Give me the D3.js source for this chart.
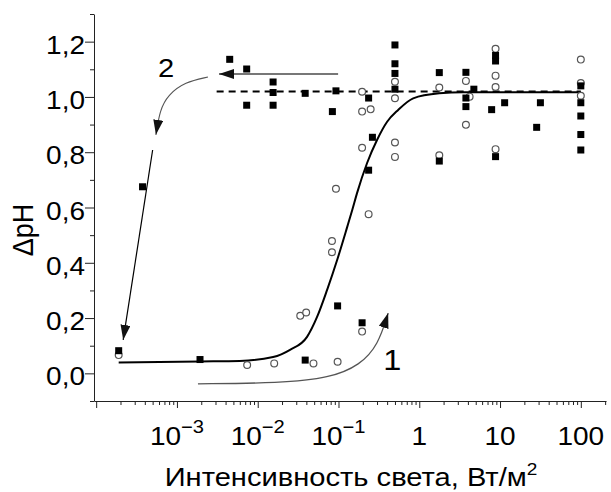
<!DOCTYPE html>
<html>
<head>
<meta charset="utf-8">
<script src="https://cdn.jsdelivr.net/npm/d3@7"></script>
<style>
  body { margin: 0; background: #fff; }
  text { font-family: "Liberation Sans", Arial, sans-serif; fill: #000; }
</style>
</head>
<body>
<script>
// данные (x в Вт/м2, y = ΔpH)
var squaresX = [1.9e-4, 3.75e-4, 1.93e-3, 0.0045, 0.0073, 0.0155, 0.0155, 0.0073, 0.0155, 0.0387,
                0.093, 0.084, 0.236, 0.263, 0.236, 0.0387, 0.0975, 0.196, 0.5, 0.5,
                0.5, 0.5, 1.77, 3.78, 4.74, 3.78, 3.78, 8.8, 8.8, 7.87,
                11.4, 31.6, 28.4, 100, 100, 100, 100, 100, 1.77, 8.8];
var squaresY = [0.082, 0.675, 0.05, 1.136, 1.101, 1.054, 1.016, 0.970, 0.970, 1.013,
                1.022, 0.947, 0.996, 0.854, 0.735, 0.048, 0.244, 0.183, 1.188, 1.12,
                1.085, 1.028, 1.088, 1.089, 1.028, 0.996, 0.965, 1.15, 1.13, 0.954,
                0.979, 0.979, 0.890, 1.040, 0.979, 0.931, 0.864, 0.808, 0.768, 0.784];

var circlesX = [1.9e-4, 0.196, 0.196, 0.25, 0.196, 0.093, 0.5, 0.5, 0.5, 0.5,
                1.77, 1.77, 3.78, 4.2, 3.78, 8.8, 8.8, 8.8, 8.8, 100,
                100, 100, 0.236, 0.083, 0.083, 0.0336, 0.0398, 0.196, 0.0074, 0.016,
                0.049, 0.0975];
var circlesY = [0.066, 1.019, 0.947, 0.955, 0.816, 0.668, 1.055, 0.995, 0.835, 0.783,
                1.034, 0.789, 1.058, 1.001, 0.899, 1.174, 1.077, 1.036, 0.811, 1.135,
                1.05, 1.004, 0.576, 0.479, 0.438, 0.208, 0.220, 0.151, 0.030, 0.036,
                0.036, 0.042];

// сглаженная кривая (точки)
var curveX = [1.9e-4, 1.93e-3, 6.0e-3, 0.0155, 0.0251, 0.0408, 0.0543, 0.0723, 0.0962, 0.128,
              0.148, 0.170, 0.226, 0.301, 0.400, 0.548, 0.841, 1.77, 3.5, 100];
var curveY = [0.039, 0.043, 0.045, 0.059, 0.085, 0.132, 0.204, 0.302, 0.410, 0.529,
              0.591, 0.653, 0.761, 0.845, 0.910, 0.953, 0.995, 1.013, 1.017, 1.017];

// пунктир
var dashX = [3.1e-3, 100];
var dashY = [1.02, 1.02];

// стрелки
var arrow1X = [1.82e-3, 0.0189, 0.0787, 0.185, 0.31, 0.412];
var arrow1Y = [-0.038, -0.035, -0.017, 0.030, 0.103, 0.218];
var arrow2X = [0.0989, 3.32e-3];
var arrow2Y = [1.083, 1.083];
var arrow2cX = [2.42e-3, 1.26e-3, 7.73e-4, 6.15e-4, 5.49e-4];
var arrow2cY = [1.072, 1.054, 1.007, 0.953, 0.863];
var arrow3X = [5.0e-4, 2.16e-4];
var arrow3Y = [0.808, 0.121];

// подписи осей
var yTicks = [0, 0.2, 0.4, 0.6, 0.8, 1.0, 1.2];
var yMinor = [-0.1, 0.1, 0.3, 0.5, 0.7, 0.9, 1.1, 1.3];
var xTicks = [1e-4, 1e-3, 1e-2, 1e-1, 1, 10, 100];
var xTickBase = ["", "10", "10", "10", "1", "10", "100"];
var xTickSup = ["", "\u22123", "\u22122", "\u22121", "", "", ""];

var width = 611, height = 492;
var sx = 1.12; // картинка немного растянута по горизонтали

var svg = d3.select('body').append('svg')
    .attr('width', width)
    .attr('height', height);

var x = d3.scaleLog().domain([9.4e-5, 205]).range([94, 606]);
var y = d3.scaleLinear().domain([-0.1, 1.3]).range([401, 14]);

// минорные деления по x
var xMinor = [];
for (var e = -4; e <= 2; e++) {
    for (var k = 2; k <= 9; k++) {
        var v = k * Math.pow(10, e);
        if (v <= 205) xMinor.push(v);
    }
}

// маркеры-стрелки
var defs = svg.append('defs');
defs.append('marker')
    .attr('id', 'head')
    .attr('markerUnits', 'userSpaceOnUse')
    .attr('markerWidth', 16).attr('markerHeight', 11)
    .attr('refX', 15).attr('refY', 5)
    .attr('orient', 'auto')
    .append('path').attr('d', 'M0,0 L15,5 L0,10 Z').attr('fill', '#111');

// оси
var xAxisG = svg.append('g').attr('transform', 'translate(0,' + y(-0.1) + ')');
xAxisG.call(d3.axisBottom(x).tickValues(xMinor).tickSize(4).tickSizeOuter(0).tickFormat(''));
xAxisG.append('g').call(d3.axisBottom(x).tickValues(xTicks).tickSize(7).tickSizeOuter(0).tickFormat(''))
    .select('.domain').remove();
xAxisG.selectAll('path, line').attr('stroke', '#222');

var yAxisG = svg.append('g').attr('transform', 'translate(' + x.range()[0] + ',0)');
yAxisG.call(d3.axisLeft(y).tickValues(yMinor).tickSize(4).tickSizeOuter(0).tickFormat(''));
yAxisG.append('g').call(d3.axisLeft(y).tickValues(yTicks).tickSize(9).tickSizeOuter(0).tickFormat(''))
    .select('.domain').remove();
yAxisG.selectAll('path, line').attr('stroke', '#222');

// подписи делений y
svg.selectAll('.ylab').data(yTicks).enter().append('text')
    .attr('transform', function(d) { return 'translate(85,' + (y(d) + 12) + ') scale(' + sx + ',1)'; })
    .attr('text-anchor', 'end')
    .attr('font-size', 25)
    .text(function(d) { return d3.format('.1f')(d).replace('.', ','); });

// подписи делений x
var xl = svg.selectAll('.xlab').data(xTicks).enter().append('text')
    .attr('transform', function(d) { return 'translate(' + x(d) + ',445) scale(' + sx + ',1)'; })
    .attr('text-anchor', 'middle')
    .attr('font-size', 25);
xl.append('tspan').text(function(d, i) { return xTickBase[i]; });
xl.append('tspan').attr('dy', -12).attr('font-size', 18).text(function(d, i) { return xTickSup[i]; });

// названия осей
var xt = svg.append('text')
    .attr('transform', 'translate(351,486) scale(' + sx + ',1)')
    .attr('text-anchor', 'middle')
    .attr('font-size', 26);
xt.append('tspan').text('Интенсивность света, Вт/м');
xt.append('tspan').attr('dy', -11).attr('font-size', 17).text('2');

svg.append('text')
    .attr('transform', 'translate(33,230) scale(' + sx + ',1) rotate(-90)')
    .attr('text-anchor', 'middle')
    .attr('font-size', 27)
    .text('ΔpH');

var line = d3.line()
    .x(function(d) { return x(d[0]); })
    .y(function(d) { return y(d[1]); });

function pts(xs, ys) { return xs.map(function(v, i) { return [v, ys[i]]; }); }

// пунктир и кривая
svg.append('path')
    .attr('d', line(pts(dashX, dashY)))
    .attr('fill', 'none').attr('stroke', '#000').attr('stroke-width', 2)
    .attr('stroke-dasharray', '7,5');

svg.append('path')
    .attr('d', line.curve(d3.curveMonotoneX)(pts(curveX, curveY)))
    .attr('fill', 'none').attr('stroke', '#000').attr('stroke-width', 2);

// стрелки
var smooth = d3.line().x(function(d) { return x(d[0]); }).y(function(d) { return y(d[1]); }).curve(d3.curveBasis);
var straight = d3.line().x(function(d) { return x(d[0]); }).y(function(d) { return y(d[1]); });

svg.append('path').attr('d', smooth(pts(arrow1X, arrow1Y)))
    .attr('fill', 'none').attr('stroke', '#555').attr('stroke-width', 1.3)
    .attr('marker-end', 'url(#head)');
svg.append('path').attr('d', straight(pts(arrow2X, arrow2Y)))
    .attr('fill', 'none').attr('stroke', '#777').attr('stroke-width', 2)
    .attr('marker-end', 'url(#head)');
svg.append('path').attr('d', smooth(pts(arrow2cX, arrow2cY)))
    .attr('fill', 'none').attr('stroke', '#555').attr('stroke-width', 1.1)
    .attr('marker-end', 'url(#head)');
svg.append('path').attr('d', straight(pts(arrow3X, arrow3Y)))
    .attr('fill', 'none').attr('stroke', '#000').attr('stroke-width', 1.2)
    .attr('marker-end', 'url(#head)');

svg.append('text')
    .attr('transform', 'translate(' + x(0.357) + ',' + y(0.012) + ') scale(' + sx + ',1)')
    .attr('font-size', 29).text('1');
svg.append('text')
    .attr('transform', 'translate(' + x(5.82e-4) + ',' + y(1.072) + ') scale(' + sx + ',1)')
    .attr('font-size', 26).text('2');

// точки
svg.selectAll('.circ').data(pts(circlesX, circlesY)).enter().append('circle')
    .attr('cx', function(d) { return x(d[0]); })
    .attr('cy', function(d) { return y(d[1]); })
    .attr('r', 3.4)
    .attr('fill', '#fff').attr('stroke', '#555').attr('stroke-width', 1.2);

svg.selectAll('.sq').data(pts(squaresX, squaresY)).enter().append('rect')
    .attr('x', function(d) { return x(d[0]) - 3.5; })
    .attr('y', function(d) { return y(d[1]) - 3.5; })
    .attr('width', 7).attr('height', 7)
    .attr('fill', '#000');
</script>
</body>
</html>
